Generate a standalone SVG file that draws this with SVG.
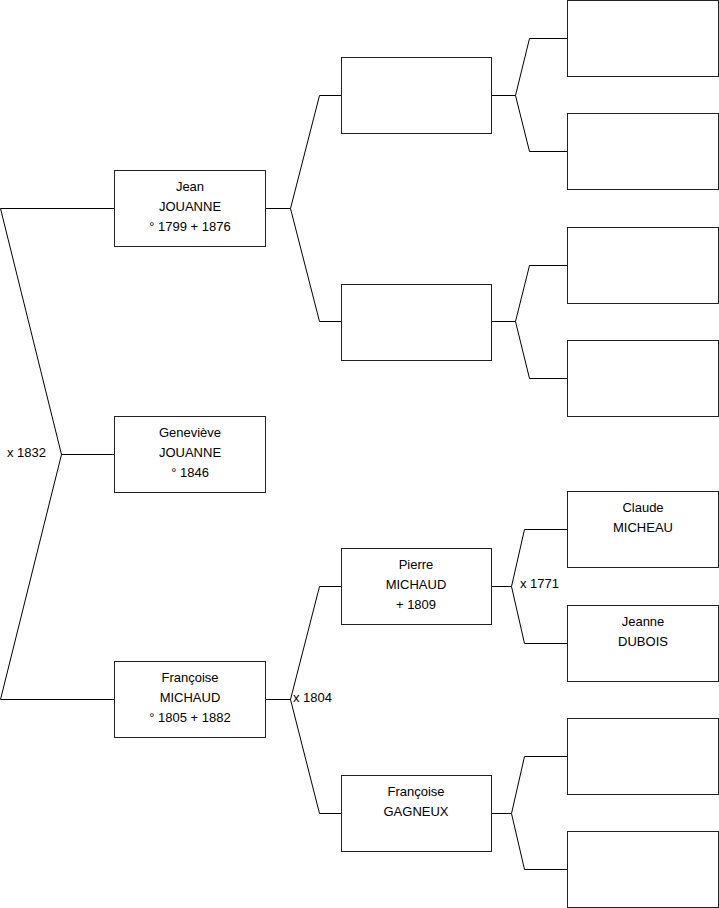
<svg xmlns="http://www.w3.org/2000/svg" width="719" height="908" viewBox="0 0 719 908">
<style>
.box{fill:#ffffff;stroke:#222222;stroke-width:1}
.c{fill:none;stroke:#000000;stroke-width:1}
text{font-family:"Liberation Sans",Arial,sans-serif;font-size:13px;fill:#000000}
.m{text-anchor:middle}
</style>
<rect width="719" height="908" fill="#ffffff"/>
<g id="connectors">
<path class="c" d="M114.5,208.5 H0.5 L61.5,454.5 L0.5,699.5 H114.5 M61.5,454.5 H114.5"/>
<path class="c" d="M265.5,208.5 H290.5 M319.5,95.5 L290.5,208.5 L319.5,321.5 M319.5,95.5 H341.5 M319.5,321.5 H341.5"/>
<path class="c" d="M265.5,699.5 H290.5 M319.5,586.5 L290.5,699.5 L319.5,813.5 M319.5,586.5 H341.5 M319.5,813.5 H341.5"/>
<path class="c" d="M491.5,95.5 H515.5 L529.5,38.5 H567.5 M515.5,95.5 L529.5,151.5 H567.5"/>
<path class="c" d="M491.5,321.5 H515.5 L529.5,265.5 H567.5 M515.5,321.5 L529.5,378.5 H567.5"/>
<path class="c" d="M491.5,586.5 H511.5 L524.5,529.5 H567.5 M511.5,586.5 L524.5,643.5 H567.5"/>
<path class="c" d="M491.5,813.5 H511.5 L524.5,756.5 H567.5 M511.5,813.5 L524.5,869.5 H567.5"/>
<text x="7" y="457">x 1832</text>
<text x="293" y="702">x 1804</text>
<text x="520" y="588">x 1771</text>
</g>
<g id="jean"><rect class="box" x="114.5" y="170.5" width="151" height="76"/>
<text class="m" x="190" y="191">Jean</text><text class="m" x="190" y="211">JOUANNE</text><text class="m" x="190" y="231">° 1799 + 1876</text></g>
<g id="genevieve"><rect class="box" x="114.5" y="416.5" width="151" height="76"/>
<text class="m" x="190" y="437">Geneviève</text><text class="m" x="190" y="457">JOUANNE</text><text class="m" x="190" y="477">° 1846</text></g>
<g id="francoise-michaud"><rect class="box" x="114.5" y="661.5" width="151" height="76"/>
<text class="m" x="190" y="682">Françoise</text><text class="m" x="190" y="702">MICHAUD</text><text class="m" x="190" y="722">° 1805 + 1882</text></g>
<g id="f-jean"><rect class="box" x="341.5" y="57.5" width="150" height="76"/></g>
<g id="m-jean"><rect class="box" x="341.5" y="284.5" width="150" height="76"/></g>
<g id="pierre"><rect class="box" x="341.5" y="548.5" width="150" height="76"/>
<text class="m" x="416" y="569">Pierre</text><text class="m" x="416" y="589">MICHAUD</text><text class="m" x="416" y="609">+ 1809</text></g>
<g id="francoise-gagneux"><rect class="box" x="341.5" y="775.5" width="150" height="76"/>
<text class="m" x="416" y="796">Françoise</text><text class="m" x="416" y="816">GAGNEUX</text></g>
<g id="ff-jean"><rect class="box" x="567.5" y="0.5" width="151" height="76"/></g>
<g id="fm-jean"><rect class="box" x="567.5" y="113.5" width="151" height="76"/></g>
<g id="mf-jean"><rect class="box" x="567.5" y="227.5" width="151" height="76"/></g>
<g id="mm-jean"><rect class="box" x="567.5" y="340.5" width="151" height="76"/></g>
<g id="claude"><rect class="box" x="567.5" y="491.5" width="151" height="76"/>
<text class="m" x="643" y="512">Claude</text><text class="m" x="643" y="532">MICHEAU</text></g>
<g id="jeanne"><rect class="box" x="567.5" y="605.5" width="151" height="76"/>
<text class="m" x="643" y="626">Jeanne</text><text class="m" x="643" y="646">DUBOIS</text></g>
<g id="gf"><rect class="box" x="567.5" y="718.5" width="151" height="76"/></g>
<g id="gm"><rect class="box" x="567.5" y="831.5" width="151" height="76"/></g>
</svg>
